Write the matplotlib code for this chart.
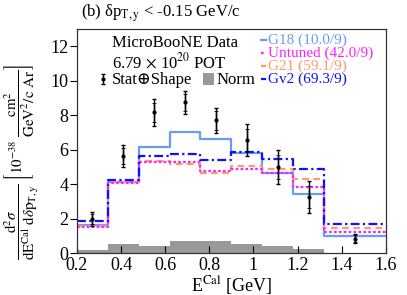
import numpy as np
import matplotlib
matplotlib.use('Agg')
import matplotlib.pyplot as plt

plt.rcParams['font.family'] = ['Liberation Serif', 'DejaVu Serif']
plt.rcParams['mathtext.fontset'] = 'stix'

# bins in E^Cal [GeV]
edges = [0.2, 0.34, 0.48, 0.62, 0.76, 0.90, 1.04, 1.18, 1.32, 1.6]
x_data = [0.27, 0.41, 0.55, 0.69, 0.83, 0.97, 1.11, 1.25, 1.46]

data = [1.96, 5.64, 8.16, 8.74, 7.71, 6.57, 5.0, 3.24, 0.83]
err_tot = [0.4, 0.62, 0.78, 0.65, 0.73, 0.93, 0.98, 0.93, 0.27]
err_stat = [0.3, 0.45, 0.55, 0.5, 0.55, 0.65, 0.7, 0.65, 0.2]

g18 = [1.62, 4.15, 6.18, 7.0, 6.59, 5.78, 4.62, 3.4, 0.99]
untuned = [1.49, 4.04, 5.31, 5.28, 4.75, 4.89, 4.62, 3.86, 1.24]
g21 = [1.56, 4.12, 5.35, 5.16, 4.62, 5.04, 4.89, 4.27, 1.43]
gv2 = [1.84, 4.25, 5.64, 5.74, 5.39, 5.86, 5.43, 4.85, 1.66]
norm = [0.16, 0.52, 0.44, 0.68, 0.68, 0.5, 0.41, 0.23, 0.0]

labels = ['G18 (10.0/9)', 'Untuned (42.0/9)', 'G21 (59.1/9)', 'Gv2 (69.3/9)']
colors = ['#6a9cf5', '#ff22ff', '#ff9a6a', '#1010ff']
styles = ['-', (0, (1.2, 1.0)), (0, (3, 2)), (0, (4, 1.5, 1, 1.5))]

fig = plt.figure(figsize=(4.07, 2.95), dpi=100)
ax = fig.add_axes([0.189, 0.142, 0.759, 0.76])

def stepvals(v):
    return list(v) + [v[-1]]

ax.fill_between(edges, 0, stepvals(norm), step='post', color='#999999', lw=0)

order = [0, 2, 1, 3]
for i in order:
    v = [g18, untuned, g21, gv2][i]
    ax.step(edges, stepvals(v), where='post', color=colors[i], ls=styles[i], lw=1.6)

ax.errorbar(x_data, data, yerr=err_tot, fmt='o', color='black', ms=2, elinewidth=1.0,
            capsize=1.5, capthick=1.0)
ax.errorbar(x_data, data, yerr=err_stat, fmt='none', color='black', elinewidth=1.0,
            capsize=1.2, capthick=0.6)

ax.set_xlim(0.2, 1.6)
ax.set_ylim(0, 13)
ax.set_xticks(np.arange(0.2, 1.61, 0.2))
ax.set_xticklabels(['0.2', '0.4', '0.6', '0.8', '1', '1.2', '1.4', '1.6'])
ax.set_yticks([0, 2, 4, 6, 8, 10, 12])
ax.tick_params(axis='x', direction='in', length=5, labelsize=13, pad=3)
ax.tick_params(axis='y', direction='out', length=5, labelsize=13, pad=1)
for s in ax.spines.values():
    s.set_linewidth(0.9)
    s.set_color('#333333')

ax.set_xlabel(r'E$^{\mathrm{Cal}}$ [GeV]', fontsize=13, labelpad=0)

# y label as a rotated figure text
fig.text(22 / 407, 1 - 162 / 295,
         r'$\dfrac{\mathrm{d}^2\sigma}{\mathrm{dE}^{\mathrm{Cal}}\ \mathrm{d}\delta\mathrm{p}_{\mathrm{T,y}}}\ '
         r'\left[10^{-38}\ \dfrac{\mathrm{cm}^2}{\mathrm{GeV}^2/\mathrm{c\ Ar}}\right]$',
         fontsize=10.8, rotation=90, ha='center', va='center')

fig.text(0.2, 0.955, '(b) δp$_{\\mathrm{T,y}}$ < -0.15 GeV/c', fontsize=12, va='center')

# data legend block
fig.text(0.275, 0.855, 'MicroBooNE Data', fontsize=12, va='center')
fig.text(0.275, 0.79, r'6.79 $\times$ 10$^{20}$ POT', fontsize=12, va='center')
fig.text(0.275, 0.73, 'Stat\u2295Shape', fontsize=12, va='center')
ax_leg = fig.add_axes([0.0, 0.0, 1, 1], facecolor='none')
ax_leg.set_xlim(0, 407)
ax_leg.set_ylim(295, 0)
ax_leg.axis('off')
ax_leg.errorbar([103], [79], yerr=[[5], [5]], fmt='o', color='black', ms=2, capsize=1.5, elinewidth=1.0)
ax_leg.add_patch(plt.Rectangle((203, 73), 11, 12, color='#999999', lw=0))
fig.text(0.532, 0.73, 'Norm', fontsize=12, va='center')

# model legend
ys = [40, 53, 66, 79]
for i in range(4):
    ax_leg.plot([261, 266], [ys[i], ys[i]], color=colors[i], ls=styles[i], lw=1.6)
    fig.text(268 / 407, 1 - ys[i] / 295, labels[i], color=colors[i], fontsize=11, va='center')

fig.savefig('out.png', dpi=100)
